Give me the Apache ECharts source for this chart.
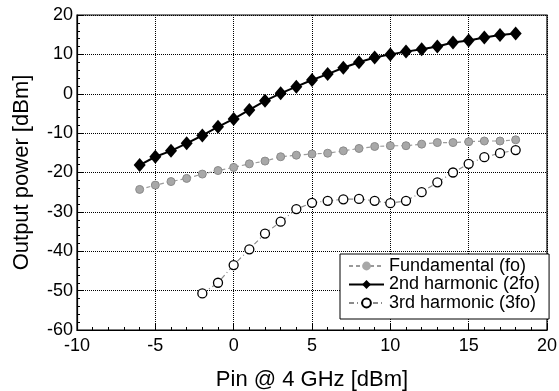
<!DOCTYPE html>
<html>
<head>
<meta charset="utf-8">
<script src="https://cdn.jsdelivr.net/npm/echarts@6/dist/echarts.min.js"></script>
<style>
  html, body { margin: 0; padding: 0; background: #fff; }
  #chart { width: 559px; height: 391px; }
</style>
</head>
<body>
<div id="chart"></div>
<script>
// input power, dBm
var pin2 = [-6, -5, -4, -3, -2, -1, 0, 1, 2, 3, 4, 5, 6, 7, 8, 9, 10, 11, 12, 13, 14, 15, 16, 17, 18];
var fund = [-24.3, -23.2, -22.3, -21.5, -20.4, -19.5, -18.7, -17.8, -17.1, -16.0, -15.6, -15.3, -15.1,
            -14.5, -13.9, -13.4, -13.2, -13.2, -12.8, -12.4, -12.4, -12.2, -12.0, -12.0, -11.7];
var harm2 = [-18.1, -16.0, -14.5, -12.6, -10.6, -8.4, -6.4, -4.1, -1.8, 0.1, 1.8, 3.5, 5.0,
             6.6, 8.0, 9.2, 10.0, 10.7, 11.3, 12.0, 13.0, 13.5, 14.3, 14.9, 15.3];
var pin3 = [-2, -1, 0, 1, 2, 3, 4, 5, 6, 7, 8, 9, 10, 11, 12, 13, 14, 15, 16, 17, 18];
var harm3 = [-50.7, -48.0, -43.5, -39.5, -35.5, -32.5, -29.3, -27.7, -27.2, -26.8, -26.7,
             -27.2, -27.8, -27.2, -25.0, -22.5, -20.0, -17.8, -16.1, -15.1, -14.3];
var names = ['Fundamental (fo)', '2nd harmonic (2fo)', '3rd harmonic (3fo)'];

function pairs(xs, ys) {
    return xs.map(function (x, i) { return [x, ys[i]]; });
}

var font = 'Liberation Sans, Arial, sans-serif';
var chart = echarts.init(document.getElementById('chart'));

chart.setOption({
    animation: false,
    grid: {
        left: 77, right: 12, top: 15, bottom: 61,
        outerBoundsMode: 'none',
        show: true, borderColor: '#000', borderWidth: 1.2
    },
    legend: {
        orient: 'vertical',
        left: 340, top: 254,
        backgroundColor: '#fff',
        borderColor: '#000', borderWidth: 1,
        padding: [3, 9, 7, 8],
        itemGap: 0.5,
        itemWidth: 35, itemHeight: 11,
        textStyle: { fontFamily: font, fontSize: 18, color: '#000' },
        data: [
            { name: names[0], itemStyle: { borderWidth: 0 } },
            { name: names[1] },
            { name: names[2] }
        ]
    },
    xAxis: {
        type: 'value', min: -10, max: 20, interval: 5,
        name: 'Pin @ 4 GHz [dBm]', nameLocation: 'middle', nameGap: 39,
        nameTextStyle: { fontFamily: font, fontSize: 22, color: '#000' },
        axisLine: { onZero: false, lineStyle: { color: '#000', width: 1.2 } },
        axisTick: { inside: true, length: 6, lineStyle: { color: '#000' } },
        minorTick: { show: true, splitNumber: 5, length: 3, lineStyle: { color: '#000' } },
        axisLabel: { fontFamily: font, fontSize: 18, color: '#000', margin: 7 },
        splitLine: { lineStyle: { color: '#000', type: [1, 1], width: 1 } }
    },
    yAxis: {
        type: 'value', min: -60, max: 20, interval: 10,
        name: 'Output power [dBm]', nameLocation: 'middle', nameGap: 44,
        nameTextStyle: { fontFamily: font, fontSize: 22, color: '#000' },
        axisLine: { onZero: false, lineStyle: { color: '#000', width: 1.2 } },
        axisTick: { inside: true, length: 6, lineStyle: { color: '#000' } },
        minorTick: { show: true, splitNumber: 5, length: 3, lineStyle: { color: '#000' } },
        axisLabel: { fontFamily: font, fontSize: 18, color: '#000', margin: 4 },
        splitLine: { lineStyle: { color: '#000', type: [1, 1], width: 1 } }
    },
    series: [
        {
            name: names[0], type: 'line', data: pairs(pin2, fund),
            symbol: 'circle', symbolSize: 8,
            itemStyle: { color: '#a8a8a8', borderColor: '#8a8a8a', borderWidth: 1 },
            lineStyle: { color: '#9a9a9a', width: 1.2, type: [4, 3] },
            z: 2
        },
        {
            name: names[1], type: 'line', data: pairs(pin2, harm2),
            symbol: 'diamond', symbolSize: [12, 14],
            itemStyle: { color: '#000' },
            lineStyle: { color: '#000', width: 2 },
            z: 3
        },
        {
            name: names[2], type: 'line', data: pairs(pin3, harm3),
            symbol: 'circle', symbolSize: 9,
            itemStyle: { color: '#fff', borderColor: '#000', borderWidth: 1.3 },
            lineStyle: { color: '#8a8a8a', width: 1.2, type: [5, 3, 1, 3] },
            z: 2
        }
    ]
});
</script>
</body>
</html>
